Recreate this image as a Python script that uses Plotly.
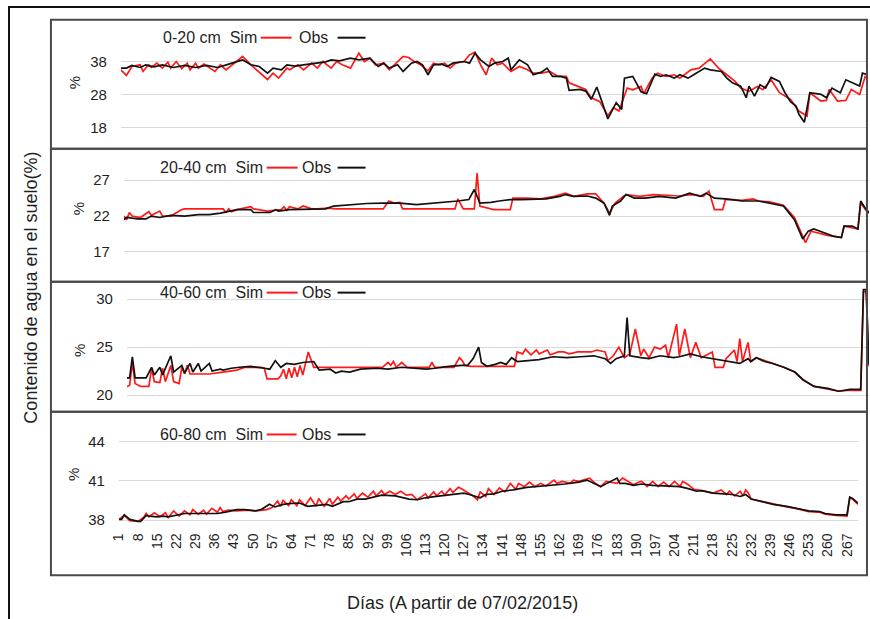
import plotly.graph_objects as go

# ---------------- data (day, value) ----------------
x_ticks = [1, 8, 15, 22, 29, 36, 43, 50, 57, 64, 71, 78, 85, 92, 99, 106, 113, 120, 127,
           134, 141, 148, 155, 162, 169, 176, 183, 190, 197, 204, 211, 218, 225, 232, 239,
           246, 253, 260, 267]

depth_labels = ["0-20 cm", "20-40 cm", "40-60 cm", "60-80 cm"]
y_ticks = [[18, 28, 38], [17, 22, 27], [20, 25, 30], [38, 41, 44]]

p1_obs = [(1, 36.0), (3, 36.0), (5, 36.8), (8, 36.2), (10, 37.0), (13, 36.4), (16, 37.0), (20, 36.2),
          (24, 36.8), (28, 36.2), (32, 36.8), (36, 36.2), (40, 37.2), (43, 38.0), (45, 38.5), (46, 38.0),
          (48, 37.0), (51, 36.5), (54, 34.5), (56, 36.0), (59, 35.5), (61, 37.0), (64, 36.6), (67, 37.0),
          (70, 37.3), (72, 37.5), (75, 37.9), (77, 38.5), (80, 38.2), (84, 39.0), (87, 38.5), (91, 39.0),
          (94, 36.5), (96, 37.5), (98, 36.0), (101, 37.0), (103, 35.0), (106, 37.5), (108, 38.0),
          (110, 37.0), (112, 34.0), (114, 37.0), (117, 37.2), (119, 36.5), (121, 37.5), (125, 38.0),
          (127, 37.5), (129, 40.5), (131, 38.5), (134, 36.5), (136, 37.5), (139, 38.0), (141, 39.0),
          (142, 35.5), (145, 38.5), (148, 37.0), (150, 34.0), (153, 34.8), (155, 36.0), (157, 33.5),
          (160, 33.5), (162, 33.0), (163, 29.3), (167, 29.6), (169, 29.1), (171, 26.6), (173, 30.3),
          (175, 25.6), (177, 20.7), (180, 25.6), (182, 23.6), (183, 33.0), (186, 33.5), (189, 28.9),
          (191, 28.3), (194, 34.2), (196, 33.5), (198, 34.0), (201, 33.0), (203, 34.0), (206, 33.0),
          (208, 34.0), (212, 36.0), (214, 35.5), (218, 35.0), (220, 33.0), (222, 31.6), (225, 30.6),
          (227, 27.1), (228, 30.6), (230, 27.6), (232, 31.0), (234, 30.0), (236, 33.2), (239, 32.0),
          (241, 28.6), (243, 25.9), (245, 24.6), (246, 22.2), (248, 19.7), (250, 28.6), (254, 28.1),
          (256, 27.1), (258, 30.0), (261, 28.6), (263, 32.5), (268, 30.6), (269, 34.5), (271, 34.0)]

p1_sim = [(1, 35.5), (3, 33.8), (5, 36.5), (8, 37.0), (9, 35.0), (11, 37.0), (12, 36.2), (14, 37.5),
          (16, 36.0), (18, 37.8), (19, 36.0), (21, 38.0), (23, 35.8), (25, 37.5), (26, 35.5), (28, 37.5),
          (29, 36.0), (31, 37.2), (35, 35.0), (37, 37.0), (39, 35.5), (42, 37.5), (45, 39.5), (48, 37.0),
          (54, 32.6), (56, 34.5), (58, 33.0), (61, 36.0), (62, 35.5), (65, 37.0), (67, 35.5), (70, 37.5),
          (72, 36.0), (74, 38.0), (77, 36.0), (79, 38.0), (81, 37.0), (84, 36.0), (87, 40.5), (89, 38.0),
          (91, 39.0), (93, 37.0), (96, 37.5), (98, 35.5), (100, 37.0), (103, 39.5), (105, 39.2),
          (107, 38.0), (109, 37.2), (112, 35.2), (114, 37.5), (116, 37.0), (118, 37.5), (120, 36.0),
          (122, 37.5), (125, 38.0), (127, 40.0), (129, 40.8), (131, 37.0), (133, 34.0), (135, 39.0),
          (137, 37.0), (139, 37.5), (142, 35.0), (145, 36.5), (148, 35.5), (150, 34.5), (153, 34.5),
          (156, 35.0), (159, 33.5), (162, 33.5), (163, 31.6), (166, 30.6), (169, 29.6), (171, 27.1),
          (174, 26.0), (177, 21.7), (179, 24.1), (181, 23.1), (184, 30.0), (186, 29.5), (189, 30.5),
          (190, 28.3), (193, 33.0), (195, 34.5), (198, 33.5), (201, 34.0), (203, 33.0), (207, 35.5),
          (210, 36.0), (214, 38.8), (217, 36.0), (220, 34.0), (223, 32.0), (225, 30.0), (228, 29.0),
          (231, 30.5), (233, 29.5), (236, 32.5), (239, 28.6), (243, 26.6), (246, 23.1), (249, 21.6),
          (250, 28.6), (254, 26.1), (256, 26.3), (257, 29.6), (260, 26.1), (263, 26.3), (265, 29.6),
          (268, 28.1), (270, 33.5), (271, 33.0)]

p2_obs = [(1, 21.5), (2, 21.8), (6, 21.6), (9, 21.6), (11, 22.0), (14, 21.8), (18, 22.1), (23, 22.0),
          (28, 22.2), (32, 22.2), (36, 22.4), (40, 22.7), (42, 22.9), (47, 22.9), (48, 22.5), (52, 22.5),
          (54, 22.5), (56, 22.9), (57, 22.7), (61, 22.9), (66, 22.9), (71, 22.9), (74, 23.0), (77, 23.4),
          (83, 23.6), (89, 23.75), (95, 23.8), (101, 23.8), (107, 23.6), (113, 23.8), (119, 23.9),
          (122, 24.1), (126, 24.3), (128, 25.7), (130, 23.8), (134, 23.9), (137, 24.1), (141, 24.3),
          (145, 24.3), (149, 24.3), (154, 24.4), (159, 24.75), (161, 25.0), (164, 24.75), (169, 24.8),
          (172, 24.5), (175, 23.8), (177, 22.1), (178, 23.4), (181, 24.1), (183, 25.0), (186, 24.5),
          (190, 24.5), (195, 24.75), (201, 24.5), (206, 25.2), (210, 24.75), (212, 25.2), (215, 24.5),
          (219, 24.4), (225, 24.1), (231, 24.1), (235, 23.8), (240, 23.4), (244, 21.5), (247, 18.8),
          (249, 19.9), (251, 20.2), (256, 19.5), (258, 19.2), (261, 19.0), (262, 20.6), (265, 20.6),
          (267, 20.2), (268, 24.1), (270, 22.9), (271, 22.5)]

p2_sim = [(1, 22.0), (2, 21.5), (3, 22.5), (4, 22.0), (7, 21.8), (10, 22.6), (11, 22.1), (14, 22.7),
          (15, 22.0), (18, 22.0), (22, 22.9), (23, 23.0), (29, 23.0), (35, 23.0), (37, 23.0), (38, 22.5),
          (39, 23.0), (40, 22.6), (42, 22.9), (47, 23.3), (48, 23.0), (53, 22.7), (58, 22.9), (59, 23.3),
          (60, 22.8), (61, 23.3), (64, 23.0), (66, 23.4), (69, 23.0), (71, 23.0), (75, 23.1), (78, 23.0),
          (83, 23.0), (89, 23.0), (95, 23.0), (97, 24.1), (99, 23.8), (101, 23.9), (102, 23.0),
          (107, 23.0), (113, 23.0), (119, 23.0), (121, 23.0), (122, 24.4), (124, 23.0), (128, 23.0),
          (129, 28.0), (130, 23.4), (135, 22.9), (141, 22.9), (142, 24.5), (147, 24.5), (152, 24.4),
          (157, 24.75), (161, 25.2), (164, 24.75), (169, 25.1), (172, 25.1), (175, 23.8), (177, 22.4),
          (179, 23.8), (182, 24.75), (183, 25.0), (188, 24.75), (193, 25.0), (198, 24.9), (202, 24.8),
          (207, 25.0), (211, 24.75), (213, 25.5), (215, 22.9), (218, 22.9), (219, 24.3), (222, 24.3),
          (225, 24.2), (229, 24.4), (231, 24.1), (235, 24.0), (240, 23.5), (244, 21.8), (248, 18.3),
          (250, 19.9), (256, 19.3), (261, 19.0), (262, 20.6), (267, 20.2), (268, 23.8), (270, 22.8),
          (271, 22.4)]

p3_obs = [(1, 21.8), (2, 21.8), (3, 24.0), (4, 21.8), (8, 21.8), (10, 22.9), (11, 22.1), (13, 22.9),
          (14, 22.1), (17, 24.1), (18, 22.4), (21, 23.1), (22, 22.3), (24, 23.3), (25, 22.4), (27, 23.3),
          (28, 22.5), (31, 23.3), (32, 22.5), (35, 22.7), (36, 22.6), (39, 22.8), (42, 22.9), (46, 23.0),
          (51, 22.8), (53, 22.7), (55, 23.6), (57, 22.9), (59, 23.3), (62, 23.2), (65, 23.4), (69, 23.5),
          (71, 22.6), (75, 22.7), (77, 22.3), (79, 22.5), (82, 22.4), (86, 22.7), (92, 22.8), (96, 22.7),
          (101, 22.9), (106, 22.8), (110, 22.7), (113, 22.8), (118, 23.0), (123, 23.1), (125, 23.1),
          (127, 23.8), (129, 25.0), (130, 23.4), (132, 23.0), (135, 23.2), (137, 23.4), (139, 23.2),
          (141, 23.9), (143, 23.5), (147, 23.6), (151, 23.7), (156, 24.0), (161, 23.9), (166, 24.0),
          (171, 24.1), (175, 23.8), (177, 23.3), (179, 23.8), (182, 24.1), (183, 28.1), (184, 24.1),
          (188, 23.9), (191, 23.8), (195, 24.1), (200, 23.9), (202, 24.0), (206, 24.3), (210, 24.0),
          (214, 23.8), (219, 23.5), (224, 23.3), (227, 23.8), (228, 23.5), (230, 23.9), (233, 23.5),
          (236, 23.3), (240, 22.9), (244, 22.4), (247, 21.6), (251, 20.9), (256, 20.7), (260, 20.4),
          (264, 20.6), (268, 20.6), (269, 31.0), (270, 31.0), (271, 23.2)]

p3_sim = [(1, 20.9), (2, 21.0), (3, 23.4), (4, 21.2), (6, 20.9), (9, 20.9), (10, 22.8), (11, 21.4),
          (13, 21.3), (14, 22.8), (15, 21.4), (17, 23.1), (18, 21.4), (20, 21.2), (21, 22.9), (22, 22.2),
          (23, 23.1), (24, 22.2), (27, 22.2), (31, 22.2), (36, 22.4), (41, 22.6), (44, 22.9), (50, 22.9),
          (51, 22.8), (52, 21.7), (56, 21.7), (57, 22.0), (58, 22.7), (59, 21.7), (60, 22.8), (61, 21.8),
          (62, 22.9), (63, 21.9), (64, 23.1), (65, 22.1), (67, 24.5), (69, 22.9), (70, 22.9), (82, 22.9),
          (94, 22.9), (96, 23.4), (97, 23.1), (98, 23.5), (99, 22.9), (101, 23.4), (103, 22.9),
          (106, 22.9), (111, 22.9), (112, 23.4), (113, 22.9), (120, 22.9), (122, 23.9), (123, 23.6),
          (124, 23.1), (126, 23.0), (130, 23.0), (135, 23.0), (142, 23.0), (143, 24.5), (145, 24.3),
          (146, 24.8), (148, 24.2), (150, 24.7), (151, 24.3), (154, 24.7), (155, 24.2), (158, 24.5),
          (160, 24.5), (162, 24.3), (165, 24.5), (167, 24.5), (170, 24.5), (172, 24.7), (175, 24.5),
          (176, 23.6), (178, 24.1), (180, 25.0), (182, 23.9), (184, 24.3), (186, 26.9), (188, 24.1),
          (189, 24.8), (191, 23.9), (193, 25.0), (195, 24.8), (197, 25.2), (198, 23.9), (201, 27.4),
          (202, 24.1), (204, 26.9), (206, 23.9), (208, 25.5), (210, 23.9), (213, 24.3), (214, 24.5),
          (215, 22.9), (218, 22.9), (219, 23.8), (222, 24.7), (223, 23.5), (224, 25.9), (225, 23.5),
          (227, 25.5), (228, 23.5), (230, 23.9), (233, 23.6), (236, 23.3), (240, 22.9), (244, 22.4),
          (247, 21.6), (251, 20.9), (256, 20.6), (260, 20.4), (264, 20.5), (268, 20.5), (269, 30.8),
          (270, 30.8), (271, 23.0)]

p4_obs = [(1, 38.05), (2, 38.05), (3, 38.4), (5, 38.05), (8, 37.9), (9, 37.9), (11, 38.35), (12, 38.3),
          (15, 38.25), (17, 38.3), (19, 38.25), (22, 38.4), (25, 38.5), (28, 38.5), (32, 38.5),
          (37, 38.5), (40, 38.6), (44, 38.8), (47, 38.8), (51, 38.7), (53, 38.8), (56, 39.2), (58, 39.0),
          (61, 39.2), (63, 39.25), (67, 39.3), (70, 39.05), (73, 39.1), (77, 39.2), (79, 39.05),
          (83, 39.4), (85, 39.4), (88, 39.6), (91, 39.6), (97, 39.9), (102, 39.85), (107, 39.6),
          (110, 39.55), (113, 39.7), (117, 39.8), (122, 39.9), (127, 40.05), (129, 39.95), (133, 39.7),
          (135, 39.95), (138, 40.0), (141, 40.2), (145, 40.3), (150, 40.5), (155, 40.6), (160, 40.65),
          (164, 40.75), (169, 40.9), (172, 41.05), (177, 40.55), (179, 40.75), (181, 40.95), (183, 41.2),
          (184, 40.8), (186, 40.8), (189, 40.65), (192, 40.75), (196, 40.65), (201, 40.6), (206, 40.55),
          (209, 40.4), (212, 40.2), (214, 40.25), (218, 40.05), (222, 40.0), (225, 39.95), (228, 39.8),
          (230, 39.95), (232, 39.6), (235, 39.45), (240, 39.2), (245, 39.05), (249, 38.9), (253, 38.7),
          (257, 38.65), (259, 38.5), (263, 38.4), (267, 38.4), (268, 39.75), (269, 39.65), (271, 39.3)]

p4_sim = [(1, 38.05), (3, 38.35), (5, 37.95), (8, 37.9), (10, 38.2), (11, 38.5), (12, 38.25), (14, 38.55),
          (16, 38.25), (18, 38.55), (19, 38.2), (21, 38.7), (23, 38.3), (25, 38.7), (27, 38.4), (28, 38.8),
          (30, 38.45), (32, 38.75), (33, 38.45), (35, 38.9), (37, 38.6), (38, 38.95), (39, 38.65),
          (41, 38.75), (44, 38.7), (48, 38.75), (51, 38.7), (55, 38.8), (57, 38.95), (59, 39.45),
          (60, 39.05), (61, 39.5), (63, 39.1), (64, 39.55), (66, 39.1), (67, 39.55), (69, 39.1),
          (71, 39.7), (73, 39.05), (74, 39.65), (76, 39.05), (78, 39.65), (79, 39.2), (81, 39.75),
          (82, 39.45), (84, 39.85), (85, 39.6), (87, 40.0), (88, 39.65), (90, 40.05), (92, 39.75),
          (94, 40.2), (95, 39.85), (97, 40.25), (98, 39.95), (100, 40.2), (102, 39.95), (104, 40.2),
          (106, 39.9), (108, 39.95), (110, 39.55), (113, 40.0), (114, 39.7), (116, 40.15), (117, 39.85),
          (119, 40.2), (120, 39.9), (122, 40.4), (123, 40.1), (125, 40.5), (126, 40.4), (128, 40.15),
          (130, 39.9), (132, 39.55), (133, 40.15), (135, 39.8), (136, 40.4), (138, 39.95), (140, 40.45),
          (142, 40.15), (144, 40.8), (146, 40.35), (147, 40.8), (149, 40.55), (151, 40.9), (153, 40.55),
          (155, 40.8), (157, 40.6), (160, 41.05), (161, 40.8), (163, 40.95), (166, 40.8), (167, 41.05),
          (169, 40.95), (171, 41.05), (173, 41.2), (175, 40.8), (177, 40.55), (179, 40.95), (181, 40.9),
          (183, 40.8), (185, 41.2), (187, 40.95), (189, 40.7), (191, 40.9), (192, 40.95), (194, 40.55),
          (196, 40.95), (198, 40.55), (200, 40.9), (202, 40.55), (204, 40.95), (206, 40.55), (207, 40.95),
          (209, 40.7), (211, 40.35), (214, 40.25), (218, 40.05), (221, 40.3), (223, 39.95), (224, 40.2),
          (226, 39.85), (228, 40.2), (229, 39.85), (230, 40.3), (231, 40.05), (232, 39.6), (235, 39.45),
          (240, 39.2), (245, 39.0), (249, 38.85), (253, 38.65), (257, 38.6), (259, 38.45), (263, 38.35),
          (267, 38.3), (268, 39.7), (269, 39.6), (271, 39.2)]

sim_series = [p1_sim, p2_sim, p3_sim, p4_sim]
obs_series = [p1_obs, p2_obs, p3_obs, p4_obs]

# ---------------- layout geometry (pixels in an 870x619 canvas) ----------------
W, H = 870, 619
def fx(x):
    # horizontal placement, calibrated against the rendered page
    return ((x - 7.0) / 0.992) / W
def fy(y):
    return 1 - y / H

plot_px = [(120, 868, 24, 148), (123, 869, 155, 280), (126, 869, 290, 412), (118, 858, 422, 528)]
y_ranges = [[12.33, 49.34], [13.4, 30.69], [18.58, 31.21], [37.72, 45.74]]
frames_px = [(50, 867, 20, 150), (50, 867, 150, 284), (50, 867, 284, 415), (50, 867, 415, 580)]
pct_px = [(73, 83), (77, 210), (78, 353), (72, 478)]
legend_y = [38, 169, 295, 438]
# (end of "... Sim" text, red sample start/end, "Obs" start, black sample start/end)
legend_px = [(257, 260, 291, 297, 337, 365), (263, 266, 297, 300, 337, 365),
             (263, 266, 297, 300, 337, 365), (263, 266, 296, 300, 337, 365)]

FONT = "Liberation Sans, Arial, sans-serif"
TXT = "#1f1f1f"
RED = "#ff1a1a"
BLK = "#111111"

fig = go.Figure()
layout = dict(width=W, height=H, margin=dict(l=0, r=0, t=0, b=0), autosize=False,
              paper_bgcolor="white", plot_bgcolor="white",
              font=dict(family=FONT, color=TXT), showlegend=False)

shapes = []
annotations = []

for i in range(4):
    sfx = "" if i == 0 else str(i + 1)
    xa, ya = "x" + sfx, "y" + sfx
    x0, x1, yt, yb = plot_px[i]
    for series, color in ((sim_series[i], RED), (obs_series[i], BLK)):
        fig.add_trace(go.Scatter(x=[d for d, _ in series], y=[v for _, v in series],
                                 xaxis=xa, yaxis=ya, mode="lines",
                                 line=dict(color=color, width=1.7),
                                 hoverinfo="skip", showlegend=False))
    layout["xaxis" + sfx] = dict(
        domain=[max(0, fx(x0)), min(1, fx(x1))], range=[1, 271], anchor=ya,
        showgrid=False, zeroline=False, showline=False,
        tickmode="array", tickvals=x_ticks, ticktext=[str(t) for t in x_ticks],
        showticklabels=(i == 3), tickangle=-90, ticks="",
        tickfont=dict(size=14, color=TXT, family=FONT), ticklabelstandoff=6)
    layout["yaxis" + sfx] = dict(
        domain=[fy(yb), fy(yt)], range=y_ranges[i], anchor=xa,
        tickmode="array", tickvals=y_ticks[i],
        showgrid=True, gridcolor="#d9d9d9", gridwidth=1.2,
        zeroline=False, showline=False, ticks="",
        tickfont=dict(size=15, color=TXT, family=FONT), ticklabelstandoff=13)

    fx0, fx1, fyt, fyb = frames_px[i]
    shapes.append(dict(type="rect", xref="paper", yref="paper",
                       x0=fx(fx0), x1=fx(fx1), y0=fy(fyb), y1=fy(fyt),
                       line=dict(color="#4a4a4a", width=2), fillcolor="rgba(0,0,0,0)", layer="above"))

    ly = legend_y[i]
    t_end, r0, r1, o0, b0, b1 = legend_px[i]
    annotations.append(dict(xref="paper", yref="paper", x=fx(t_end), y=fy(ly), xanchor="right",
                            yanchor="middle", showarrow=False, borderpad=0,
                            text=depth_labels[i] + "\u00a0\u00a0Sim",
                            font=dict(size=16, color=TXT, family=FONT)))
    annotations.append(dict(xref="paper", yref="paper", x=fx(o0), y=fy(ly), xanchor="left",
                            yanchor="middle", showarrow=False, borderpad=0, text="Obs",
                            font=dict(size=16, color=TXT, family=FONT)))
    shapes.append(dict(type="line", xref="paper", yref="paper", x0=fx(r0), x1=fx(r1),
                       y0=fy(ly), y1=fy(ly), line=dict(color=RED, width=2)))
    shapes.append(dict(type="line", xref="paper", yref="paper", x0=fx(b0), x1=fx(b1),
                       y0=fy(ly), y1=fy(ly), line=dict(color=BLK, width=2)))

    px_, py_ = pct_px[i]
    annotations.append(dict(xref="paper", yref="paper", x=fx(px_), y=fy(py_), xanchor="center",
                            yanchor="middle", showarrow=False, text="%", textangle=-90,
                            font=dict(size=15, color=TXT, family=FONT)))

# outer frame
shapes.append(dict(type="rect", xref="paper", yref="paper", x0=fx(8), x1=fx(876), y0=fy(625), y1=fy(7),
                   line=dict(color="#111111", width=2), fillcolor="rgba(0,0,0,0)", layer="above"))

annotations.append(dict(xref="paper", yref="paper", x=fx(30), y=fy(290), xanchor="center",
                        yanchor="middle", showarrow=False, textangle=-90,
                        text="Contenido de agua en el suelo(%)",
                        font=dict(size=18, color=TXT, family=FONT)))
annotations.append(dict(xref="paper", yref="paper", x=fx(462), y=fy(608), xanchor="center",
                        yanchor="middle", showarrow=False,
                        text="Días (A partir de 07/02/2015)",
                        font=dict(size=18, color=TXT, family=FONT)))

layout["shapes"] = shapes
layout["annotations"] = annotations
fig.update_layout(**layout)
fig.write_html(
    "out.html",
    config=dict(responsive=False, displayModeBar=False),
    post_script=("document.body.style.margin='0px';document.body.style.padding='0px';"
                 "document.body.style.overflow='hidden';"
                 "var gd=document.getElementById('{plot_id}');"
                 "gd.style.position='absolute';gd.style.left='0px';gd.style.top='0px';"))
